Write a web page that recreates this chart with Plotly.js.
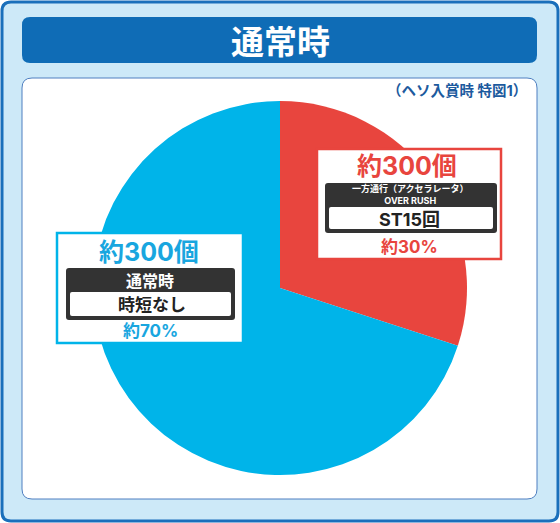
<!DOCTYPE html>
<html>
<head>
<meta charset="utf-8">
<script src="https://cdn.plot.ly/plotly-3.0.1.min.js"></script>
<style>html,body{margin:0;padding:0;background:#fff;}#chart{width:560px;height:523px;}</style>
</head>
<body>
<div id="chart"></div>
<script>
// Data
const categories = ["一方通行（アクセラレータ）OVER RUSH", "通常時"];
const shares = [30, 70];
const counts = ["約300個", "約300個"];
const shareLabels = ["約30%", "約70%"];
const modeLines = [["一方通行（アクセラレータ）", "OVER RUSH"], ["通常時"]];
const modeValues = ["ST15回", "時短なし"];
const sliceColors = ["#e8453e", "#00b4e9"];
const chartTitle = "通常時";
const subTitle = "（ヘソ入賞時 特図1）";

const W = 560, H = 523;
const FONT = '"Inter", "Noto Sans CJK JP", "Noto Sans", sans-serif';
function X(px) { return px / W; }
function Y(py) { return 1 - py / H; }
function rrect(x0, y0, x1, y1, r) {
  const p = [];
  p.push(`M ${X(x0 + r)} ${Y(y0)}`);
  p.push(`L ${X(x1 - r)} ${Y(y0)}`);
  p.push(`Q ${X(x1)} ${Y(y0)} ${X(x1)} ${Y(y0 + r)}`);
  p.push(`L ${X(x1)} ${Y(y1 - r)}`);
  p.push(`Q ${X(x1)} ${Y(y1)} ${X(x1 - r)} ${Y(y1)}`);
  p.push(`L ${X(x0 + r)} ${Y(y1)}`);
  p.push(`Q ${X(x0)} ${Y(y1)} ${X(x0)} ${Y(y1 - r)}`);
  p.push(`L ${X(x0)} ${Y(y0 + r)}`);
  p.push(`Q ${X(x0)} ${Y(y0)} ${X(x0 + r)} ${Y(y0)}`);
  p.push('Z');
  return p.join(' ');
}
function shape(x0, y0, x1, y1, r, fill, lineColor, lineWidth, layer) {
  return {type: 'path', xref: 'paper', yref: 'paper', path: rrect(x0, y0, x1, y1, r),
    fillcolor: fill, line: {color: lineColor, width: lineWidth}, layer: layer || 'below'};
}
function ann(text, px, py, size, color, xanchor) {
  return {xref: 'paper', yref: 'paper', x: X(px), y: Y(py), text: text, showarrow: false,
    xanchor: xanchor || 'center', yanchor: 'middle',
    font: {family: FONT, size: size, color: color, weight: 'bold'}};
}

const cx = 280, cy = 288, R = 187;
const trace = {
  type: 'pie', values: shares, labels: categories, sort: false, direction: 'clockwise', rotation: 0,
  marker: {colors: sliceColors, line: {width: 0}},
  textinfo: 'none', hoverinfo: 'none', showlegend: false,
  domain: {x: [X(cx - R), X(cx + R)], y: [Y(cy + R), Y(cy - R)]}
};

const shapes = [
  shape(2, 2, 558, 521, 9, '#cde9f8', '#1a6fbb', 3),
  shape(22, 17, 537, 63, 8, '#0f6cb6', '#0f6cb6', 0),
  shape(22, 78, 537, 499, 10, '#ffffff', '#4f7fc0', 1),
  // red label box
  shape(317, 149, 501, 259, 0, '#ffffff', sliceColors[0], 2.5, 'above'),
  shape(325, 183, 497, 233, 3, '#333333', '#333333', 0, 'above'),
  shape(329, 207, 493, 229, 2, '#ffffff', '#ffffff', 0, 'above'),
  // blue label box
  shape(57, 233, 243, 343, 0, '#ffffff', sliceColors[1], 2.5, 'above'),
  shape(66, 268, 235, 320, 3, '#333333', '#333333', 0, 'above'),
  shape(70, 292, 231, 316, 2, '#ffffff', '#ffffff', 0, 'above')
];

const annotations = [
  ann(chartTitle, 280, 42, 33, '#ffffff'),
  ann(subTitle, 529, 90, 14.5, '#1c5a9e', 'right'),
  // red
  ann(counts[0], 407, 166, 25, sliceColors[0]),
  Object.assign(ann(modeLines[0].join('<br>'), 410, 194.5, 9, '#ffffff'), {}),
  ann(modeValues[0], 409, 219, 18, '#222222'),
  ann(shareLabels[0], 409, 247, 17, sliceColors[0]),
  // blue
  ann(counts[1], 149, 252, 25, '#19a6df'),
  ann(modeLines[1][0], 150, 281, 16, '#ffffff'),
  ann(modeValues[1], 152, 305, 17, '#222222'),
  ann(shareLabels[1], 150, 331, 17, '#19a6df')
];

Plotly.newPlot('chart', [trace], {
  width: W, height: H, margin: {l: 0, r: 0, t: 0, b: 0},
  paper_bgcolor: '#ffffff', plot_bgcolor: 'rgba(0,0,0,0)',
  shapes: shapes, annotations: annotations, showlegend: false
}, {staticPlot: true, displayModeBar: false});
</script>
</body>
</html>
